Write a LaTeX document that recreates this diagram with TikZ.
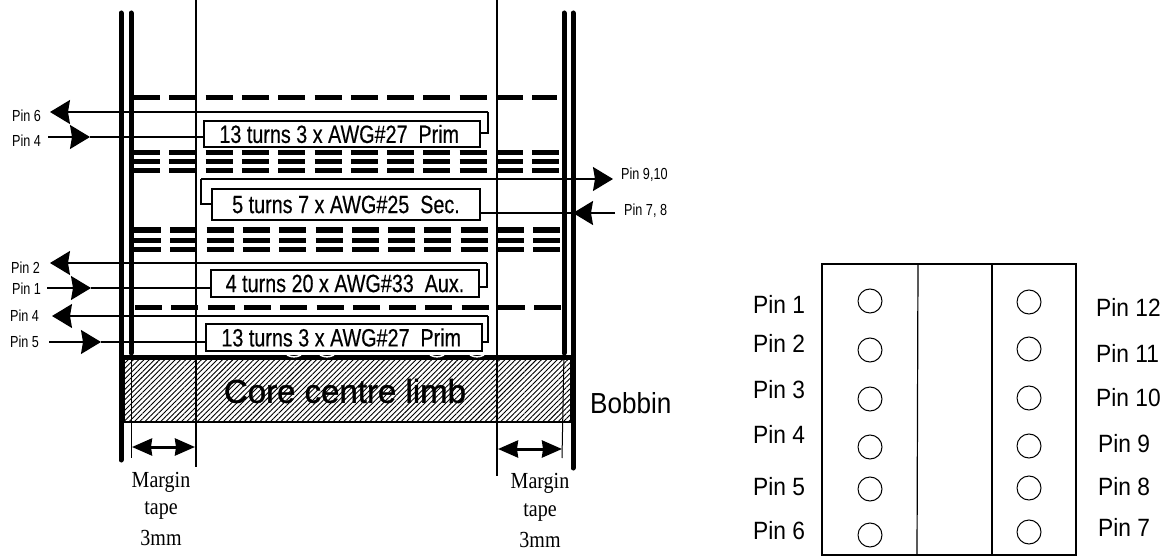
\documentclass[tikz,border=0pt]{standalone}
\usepackage{fontspec}
\setmainfont{Liberation Sans}
\newfontfamily\marginfont{Liberation Serif}
\newfontfamily\corefont[FakeBold=1.2]{Liberation Sans}
\newfontfamily\boxfont[FakeBold=.4]{Liberation Sans}
\usepackage{tikz}
\usetikzlibrary{positioning}
\usetikzlibrary{arrows.meta}
\usetikzlibrary{patterns.meta}
\newcommand{\narrowtext}[2][.79]{\scalebox{#1}[1]{#2}}
\newcommand{\fsize}[1]{\fontsize{#1}{#1}\selectfont}
\tikzset{>=stealth}
\tikzstyle{wire} = [draw, line width=1.5pt]
\tikzstyle{flange} = [draw, line width=5pt, line cap=round]
\tikzstyle{guide} = [draw, line width=1.5pt]
\tikzstyle{tapeline} = [draw, line width=5pt, dash pattern=on 27pt off 9.3pt]
\tikzstyle{tapestack} = [draw, line width=5pt, dash pattern=on 27pt off 9.3pt]
\tikzstyle{pinhead} = [wire, -{Stealth[length=20pt,width=24pt,inset=2pt]}]
\tikzstyle{margin} = [draw, line width=3pt, {Stealth[length=20pt,width=17pt,inset=1pt]}-{Stealth[length=20pt,width=17pt,inset=1pt]}]
\tikzstyle{notch} = [draw=white, line width=1.5pt]
\begin{document}
\begin{tikzpicture}[x=1pt, y=-1pt,
	winding/.style={draw, line width=2pt, fill=white, inner sep=0pt, font=\boxfont\fsize{25}},
	pinlabel/.style={inner sep=0pt, anchor=west, font=\fsize{16}},
	footlabel/.style={inner sep=0pt, font=\marginfont\fsize{23}},
	hole/.style={draw, circle, line width=1pt, minimum size=24pt, inner sep=0pt},
	legend/.style={inner sep=0pt, anchor=west, font=\fsize{25}}]
	\useasboundingbox (0,0) rectangle (1167,556);
	%% Core
	\node [draw, line width=1.5pt, inner sep=0pt, minimum width=447pt, minimum height=64pt,
		pattern={Lines[angle=45,distance=3.7pt,line width=.9pt]}] (Core) at (347.5,390) {};
	\node [inner sep=0pt, font=\corefont\fsize{33}] (CoreText) at (345,391) {Core centre limb};
	\draw [line width=4.5pt] (Core.north west) -- (Core.north east);
	\path [notch] (287,355) .. controls (292,357.5) and (296,357.5) .. (301,355);
	\path [notch] (320,355) .. controls (325,357.5) and (329,357.5) .. (334,355);
	\path [notch] (430,355) .. controls (435,357.5) and (439,357.5) .. (444,355);
	\path [notch] (470,355) .. controls (475,357.5) and (479,357.5) .. (484,355);
	%% Bobbin and margin lines
	\coordinate (OuterLT) at (121,13);
	\coordinate (OuterLB) at (121,460);
	\coordinate (InnerLT) at (131,13);
	\coordinate (InnerLM) at (131,353);
	\coordinate (InnerLB) at (131,458);
	\coordinate (OuterRT) at (573,13);
	\coordinate (OuterRB) at (573,468);
	\coordinate (InnerRT) at (564,13);
	\coordinate (InnerRM) at (564,353);
	\coordinate (InnerRB) at (562,458);
	\coordinate (GuideLT) at (196,0);
	\coordinate (GuideLB) at (196,467);
	\coordinate (GuideRT) at (497,0);
	\coordinate (GuideRB) at (497,476);
	\path [flange] (OuterLT) -- (OuterLB);
	\path [flange] (InnerLT) -- (InnerLM);
	\path [wire, line width=1pt] (InnerLM) -- (InnerLB);
	\path [flange] (OuterRT) -- (OuterRB);
	\path [flange] (InnerRT) -- (InnerRM);
	\path [wire, line width=1pt] (InnerRM) -- (InnerRB);
	\path [guide] (GuideLT) -- (GuideLB);
	\path [guide] (GuideRT) -- (GuideRB);
	%% Tape layers
	\coordinate (TapeAL) at (133,98);
	\coordinate (TapeAR) at (557,98);
	\coordinate (TapeBL) at (133,153);
	\coordinate (TapeBR) at (560,153);
	\coordinate (TapeCL) at (133,162);
	\coordinate (TapeCR) at (560,162);
	\coordinate (TapeDL) at (133,171);
	\coordinate (TapeDR) at (560,171);
	\coordinate (TapeEL) at (134,230);
	\coordinate (TapeER) at (561,230);
	\coordinate (TapeFL) at (134,240);
	\coordinate (TapeFR) at (561,240);
	\coordinate (TapeGL) at (134,249);
	\coordinate (TapeGR) at (561,249);
	\coordinate (TapeHL) at (135,307);
	\coordinate (TapeHR) at (562,307);
	\path [tapeline] (TapeAL) -- (TapeAR);
	\path [tapestack] (TapeBL) -- (TapeBR);
	\path [tapestack] (TapeCL) -- (TapeCR);
	\path [tapestack] (TapeDL) -- (TapeDR);
	\path [tapestack] (TapeEL) -- (TapeER);
	\path [tapestack] (TapeFL) -- (TapeFR);
	\path [tapestack] (TapeGL) -- (TapeGR);
	\path [tapeline] (TapeHL) -- (TapeHR);
	%% Windings
	\node [winding, minimum width=276pt, minimum height=26pt] (PrimA) at (342,134) {\narrowtext{13 turns 3 x AWG\#27~~Prim~}};
	\node [winding, minimum width=268pt, minimum height=31pt] (Sec) at (346,204.5) {\narrowtext{5 turns 7 x AWG\#25~~Sec.}};
	\node [winding, minimum width=268pt, minimum height=27pt] (Aux) at (345,283.5) {\narrowtext{4 turns 20 x AWG\#33~~Aux.}};
	\node [winding, minimum width=276pt, minimum height=27pt] (PrimB) at (344,337.5) {\narrowtext{13 turns 3 x AWG\#27~~Prim~}};
	%% Pin labels of the windings
	\node [pinlabel] (LabA) at (12,116) {\narrowtext{Pin 6}};
	\node [pinlabel] (LabB) at (12,141) {\narrowtext{Pin 4}};
	\node [pinlabel] (LabC) at (11,268) {\narrowtext{Pin 2}};
	\node [pinlabel] (LabD) at (12,289) {\narrowtext{Pin 1}};
	\node [pinlabel] (LabE) at (10,316) {\narrowtext{Pin 4}};
	\node [pinlabel] (LabF) at (10,342) {\narrowtext{Pin 5}};
	\node [pinlabel] (LabG) at (621,175) {\narrowtext{Pin 9,10}};
	\node [pinlabel] (LabH) at (624,211) {\narrowtext{Pin 7, 8}};
	%% Outflows
	\coordinate (TipA) at (50,112);
	\coordinate (TurnA) at (488,112);
	\coordinate (BackA) at (488,133);
	\path [pinhead] (TurnA) -- (TipA);
	\path [wire] (TurnA) -- (BackA) -- (BackA -| PrimA.east);
	\coordinate (TipC) at (50,263);
	\coordinate (TurnC) at (487,263);
	\coordinate (BackC) at (487,287);
	\path [pinhead] (TurnC) -- (TipC);
	\path [wire] (TurnC) -- (BackC) -- (BackC -| Aux.east);
	\coordinate (TipE) at (52,316);
	\coordinate (TurnE) at (488,316);
	\coordinate (BackE) at (488,342);
	\path [pinhead] (TurnE) -- (TipE);
	\path [wire] (TurnE) -- (BackE) -- (BackE -| PrimB.east);
	\coordinate (TipG) at (613,179);
	\coordinate (TurnG) at (201,179);
	\coordinate (BackG) at (201,204);
	\path [pinhead] (TurnG) -- (TipG);
	\path [wire] (TurnG) -- (BackG) -- (BackG -| Sec.west);
	%% Inflows
	\coordinate (FreeB) at (48,137);
	\coordinate (TipB) at (90,137);
	\path [pinhead] (FreeB) -- (TipB);
	\path [wire] (TipB) -- (TipB -| PrimA.west);
	\coordinate (FreeD) at (47,288);
	\coordinate (TipD) at (91,288);
	\path [pinhead] (FreeD) -- (TipD);
	\path [wire] (TipD) -- (TipD -| Aux.west);
	\coordinate (FreeF) at (49,342);
	\coordinate (TipF) at (101,342);
	\coordinate (BendF) at (146,342);
	\path [pinhead] (FreeF) -- (TipF);
	\path [wire, line width=2.5pt] (TipF) -- (BendF);
	\path [wire] (BendF) -- (BendF -| PrimB.west);
	\coordinate (FreeH) at (615,213);
	\coordinate (TipH) at (573,213);
	\path [pinhead] (FreeH) -- (TipH);
	\path [wire] (TipH) -- (TipH -| Sec.east);
	%% Margin tape
	\coordinate (MarginAL) at (132,447);
	\coordinate (MarginAR) at (195,447);
	\coordinate (MarginBL) at (498,449);
	\coordinate (MarginBR) at (562,449);
	\path [margin] (MarginAL) -- (MarginAR);
	\path [margin] (MarginBL) -- (MarginBR);
	\node [footlabel] (MarginA) at (161,482) {\narrowtext[.87]{Margin}};
	\node [footlabel] (TapeA) at (161,510) {\narrowtext[.87]{tape}};
	\node [footlabel] (SizeA) at (161,538) {\narrowtext[.87]{3mm}};
	\node [footlabel] (MarginB) at (540,483) {\narrowtext[.87]{Margin}};
	\node [footlabel] (TapeB) at (540,512) {\narrowtext[.87]{tape}};
	\node [footlabel] (SizeB) at (540,540) {\narrowtext[.87]{3mm}};
	\node [inner sep=0pt, anchor=west, font=\fsize{29}] (Bobbin) at (590,403) {\narrowtext[.9]{Bobbin}};
	%% Pin layout
	\coordinate (PanelTL) at (822,264);
	\coordinate (PanelBR) at (1076,555);
	\draw [line width=1.5pt] (PanelTL) rectangle (PanelBR);
	\draw [line width=1.2pt] (918,264) -- (917,555);
	\draw [line width=1.2pt] (992,264) -- (992,555);
	\node [hole] (H1) at (870,301) {};
	\node [hole, below=24pt of H1] (H2) {};
	\node [hole, below=24pt of H2] (H3) {};
	\node [hole, below=23pt of H3] (H4) {};
	\node [hole, below=17pt of H4] (H5) {};
	\node [hole, below=21pt of H5] (H6) {};
	\node [hole] (H12) at (1029,302) {};
	\node [hole, below=22pt of H12] (H11) {};
	\node [hole, below=24pt of H11] (H10) {};
	\node [hole, below=23pt of H10] (H9) {};
	\node [hole, below=17pt of H9] (H8) {};
	\node [hole, below=19pt of H8] (H7) {};
	\node [legend] (P1) at (753,304) {\narrowtext[.91]{Pin 1}};
	\node [legend] (P2) at (753,343) {\narrowtext[.91]{Pin 2}};
	\node [legend] (P3) at (753,390) {\narrowtext[.91]{Pin 3}};
	\node [legend] (P4) at (753,434) {\narrowtext[.91]{Pin 4}};
	\node [legend] (P5) at (753,487) {\narrowtext[.91]{Pin 5}};
	\node [legend] (P6) at (753,531) {\narrowtext[.91]{Pin 6}};
	\node [legend] (P12) at (1096,307) {\narrowtext[.91]{Pin 12}};
	\node [legend] (P11) at (1096,353) {\narrowtext[.91]{Pin 11}};
	\node [legend] (P10) at (1096,398) {\narrowtext[.91]{Pin 10}};
	\node [legend] (P9) at (1098,444) {\narrowtext[.91]{Pin 9}};
	\node [legend] (P8) at (1098,487) {\narrowtext[.91]{Pin 8}};
	\node [legend] (P7) at (1098,527) {\narrowtext[.91]{Pin 7}};
\end{tikzpicture}
\end{document}
